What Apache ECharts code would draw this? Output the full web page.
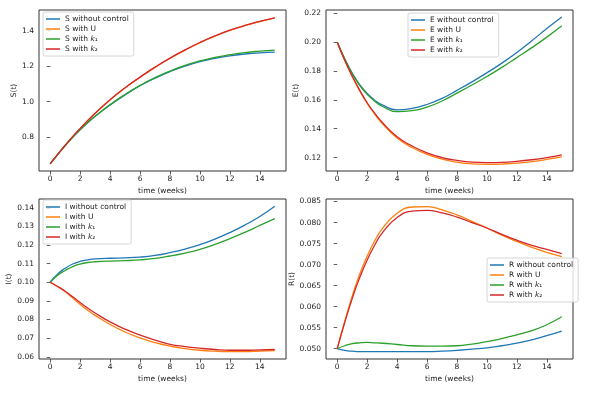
<!DOCTYPE html>
<html>
<head>
<meta charset="utf-8">
<script src="https://cdn.jsdelivr.net/npm/echarts@6/dist/echarts.min.js"></script>
<style>
  html, body { margin: 0; padding: 0; background: #fff; }
  #chart { width: 591px; height: 393px; }
</style>
</head>
<body>
<div id="chart"></div>
<script>
// time points (weeks)
const t = [0, 0.5, 1, 1.5, 2, 2.5, 3, 4, 5, 6, 7, 8, 9, 10, 11, 12, 13, 14, 15];
const xTicks = [0, 2, 4, 6, 8, 10, 12, 14];

// S(t)
const sNoCtrl = [0.650, 0.702, 0.752, 0.799, 0.841, 0.881, 0.917, 0.981, 1.038, 1.089, 1.132, 1.169, 1.200, 1.225, 1.244, 1.258, 1.268, 1.275, 1.279];
const sU      = [0.650, 0.703, 0.753, 0.802, 0.848, 0.892, 0.933, 1.010, 1.077, 1.137, 1.193, 1.244, 1.290, 1.332, 1.369, 1.401, 1.428, 1.451, 1.471];
const sK1     = [0.650, 0.702, 0.752, 0.799, 0.842, 0.882, 0.918, 0.983, 1.040, 1.091, 1.135, 1.172, 1.204, 1.229, 1.249, 1.264, 1.276, 1.284, 1.290];
const sK2     = [0.650, 0.703, 0.754, 0.803, 0.849, 0.893, 0.934, 1.011, 1.078, 1.138, 1.194, 1.245, 1.291, 1.333, 1.370, 1.402, 1.429, 1.452, 1.472];
const sTicks = [0.8, 1.0, 1.2, 1.4];

// E(t)
const eNoCtrl = [0.200, 0.1885, 0.1785, 0.1706, 0.1644, 0.1598, 0.1565, 0.1531, 0.1541, 0.1568, 0.1610, 0.1666, 0.1725, 0.1788, 0.1855, 0.1928, 0.2010, 0.2095, 0.2175];
const eU      = [0.200, 0.1875, 0.1763, 0.1664, 0.1575, 0.1502, 0.1438, 0.1336, 0.1270, 0.1222, 0.1189, 0.1168, 0.1156, 0.1153, 0.1155, 0.1161, 0.1172, 0.1187, 0.1205];
const eK1     = [0.200, 0.1884, 0.1782, 0.1701, 0.1638, 0.1591, 0.1556, 0.1518, 0.1525, 0.1550, 0.1592, 0.1647, 0.1703, 0.1762, 0.1825, 0.1893, 0.1962, 0.2035, 0.2114];
const eK2     = [0.200, 0.1875, 0.1765, 0.1668, 0.1580, 0.1508, 0.1445, 0.1345, 0.1280, 0.1233, 0.1200, 0.1180, 0.1168, 0.1165, 0.1167, 0.1174, 0.1185, 0.1200, 0.1219];
const eTicks = [0.12, 0.14, 0.16, 0.18, 0.20, 0.22];

// I(t)
const iNoCtrl = [0.100, 0.1045, 0.1075, 0.1098, 0.1112, 0.1120, 0.1125, 0.1129, 0.1131, 0.1135, 0.1144, 0.1159, 0.1178, 0.1202, 0.1232, 0.1267, 0.1307, 0.1353, 0.1408];
const iU      = [0.100, 0.0976, 0.0949, 0.0916, 0.0881, 0.0850, 0.0822, 0.0773, 0.0733, 0.0701, 0.0676, 0.0657, 0.0644, 0.0635, 0.0630, 0.0628, 0.0628, 0.0631, 0.0633];
const iK1     = [0.100, 0.1038, 0.1063, 0.1084, 0.1098, 0.1106, 0.1110, 0.1114, 0.1116, 0.1120, 0.1128, 0.1141, 0.1157, 0.1177, 0.1203, 0.1234, 0.1268, 0.1305, 0.1342];
const iK2     = [0.100, 0.0977, 0.0952, 0.0922, 0.0891, 0.0862, 0.0835, 0.0787, 0.0748, 0.0716, 0.0689, 0.0667, 0.0655, 0.0646, 0.0639, 0.0635, 0.0635, 0.0637, 0.0639];
const iTicks = [0.06, 0.07, 0.08, 0.09, 0.10, 0.11, 0.12, 0.13, 0.14];

// R(t)
const rNoCtrl = [0.0500, 0.0496, 0.0494, 0.0493, 0.0493, 0.0493, 0.0493, 0.0493, 0.0493, 0.0493, 0.0494, 0.0496, 0.0499, 0.0502, 0.0507, 0.0513, 0.0521, 0.0531, 0.0542];
const rU      = [0.0500, 0.0565, 0.0625, 0.0677, 0.0720, 0.0756, 0.0785, 0.0822, 0.0837, 0.0838, 0.0830, 0.0818, 0.0803, 0.0787, 0.0770, 0.0755, 0.0741, 0.0729, 0.0719];
const rK1     = [0.0500, 0.0507, 0.0512, 0.0514, 0.0515, 0.0514, 0.0513, 0.0510, 0.0507, 0.0506, 0.0506, 0.0507, 0.0511, 0.0517, 0.0524, 0.0533, 0.0543, 0.0557, 0.0576];
const rK2     = [0.0500, 0.0562, 0.0619, 0.0669, 0.0711, 0.0746, 0.0775, 0.0812, 0.0827, 0.0829, 0.0823, 0.0813, 0.0800, 0.0787, 0.0772, 0.0758, 0.0746, 0.0736, 0.0726];
const rTicks = [0.050, 0.055, 0.060, 0.065, 0.070, 0.075, 0.080, 0.085];

const colors = ['#1f77b4', '#ff7f0e', '#2ca02c', '#d62728'];
const font = 'DejaVu Sans';
const ink = '#222';

const pairs = v => t.map((x, i) => [x, v[i]]);

const panels = [
  { v: 'S', data: [sNoCtrl, sU, sK1, sK2], ticks: sTicks, min: 0.609, max: 1.516, dec: 1, nameGap: 21,
    grid: { left: 39, top: 10, width: 247, height: 161 }, legend: { left: 43, top: 12 } },
  { v: 'E', data: [eNoCtrl, eU, eK1, eK2], ticks: eTicks, min: 0.1107, max: 0.2223, dec: 2, nameGap: 26,
    grid: { left: 326, top: 10, width: 247, height: 161 }, legend: { left: 408, top: 13 } },
  { v: 'I', data: [iNoCtrl, iU, iK1, iK2], ticks: iTicks, min: 0.0588, max: 0.1447, dec: 2, nameGap: 26,
    grid: { left: 39, top: 199, width: 247, height: 160 }, legend: { left: 43, top: 200 } },
  { v: 'R', data: [rNoCtrl, rU, rK1, rK2], ticks: rTicks, min: 0.04755, max: 0.0856, dec: 3, nameGap: 29,
    grid: { left: 326, top: 199, width: 247, height: 160 }, legend: { left: 487, top: 258 } }
];

const labelsFor = v => [v + ' without control', v + ' with U', v + ' with k₁', v + ' with k₂'];

const option = {
  animation: false,
  backgroundColor: '#fff',
  textStyle: { fontFamily: font },
  grid: panels.map(p => Object.assign({ show: true, borderColor: '#333', borderWidth: 1, backgroundColor: 'transparent' }, p.grid)),
  xAxis: panels.map((p, i) => ({
    type: 'value', gridIndex: i, min: -0.75, max: 15.75,
    name: 'time (weeks)', nameLocation: 'middle', nameGap: 16,
    nameTextStyle: { fontSize: 7.5, color: ink, fontFamily: font },
    axisLine: { show: false },
    axisTick: { show: true, inside: false, length: 3.5, customValues: xTicks, lineStyle: { color: '#333', width: 0.8 } },
    axisLabel: { customValues: xTicks, fontSize: 7.5, color: ink, margin: 4, fontFamily: font },
    splitLine: { show: false }
  })),
  yAxis: panels.map((p, i) => ({
    type: 'value', gridIndex: i, min: p.min, max: p.max,
    name: p.v + '(t)', nameLocation: 'middle', nameGap: p.nameGap, nameRotate: 90,
    nameTextStyle: { fontSize: 7.5, color: ink, fontFamily: font },
    axisLine: { show: false },
    axisTick: { show: true, inside: false, length: 3.5, customValues: p.ticks, lineStyle: { color: '#333', width: 0.8 } },
    axisLabel: { customValues: p.ticks, fontSize: 7.5, color: ink, margin: 5, fontFamily: font,
      formatter: val => val.toFixed(p.dec) },
    splitLine: { show: false }
  })),
  legend: panels.map(p => ({
    data: labelsFor(p.v),
    orient: 'vertical',
    left: p.legend.left, top: p.legend.top,
    icon: 'rect', itemWidth: 14, itemHeight: 1.5, itemGap: 2,
    selectedMode: false,
    backgroundColor: 'rgba(255,255,255,0.8)',
    borderColor: '#ccc', borderWidth: 0.8, borderRadius: 2,
    padding: [3, 5, 3, 3],
    textStyle: { fontSize: 7.5, color: ink, fontFamily: font, lineHeight: 8,
      rich: { k: { fontSize: 7.5, fontStyle: 'italic', color: ink, fontFamily: font } } },
    formatter: name => name.replace(/k([₁₂])$/, '{k|k}$1')
  })),
  series: []
};

panels.forEach((p, i) => {
  const names = labelsFor(p.v);
  p.data.forEach((vals, j) => {
    option.series.push({
      type: 'line', name: names[j], xAxisIndex: i, yAxisIndex: i,
      data: pairs(vals), showSymbol: false, smooth: 0.5,
      lineStyle: { color: colors[j], width: 1.3 }, itemStyle: { color: colors[j] },
      z: 2 + j
    });
  });
});

const chart = echarts.init(document.getElementById('chart'), null, { renderer: 'canvas' });
chart.setOption(option);
</script>
</body>
</html>
